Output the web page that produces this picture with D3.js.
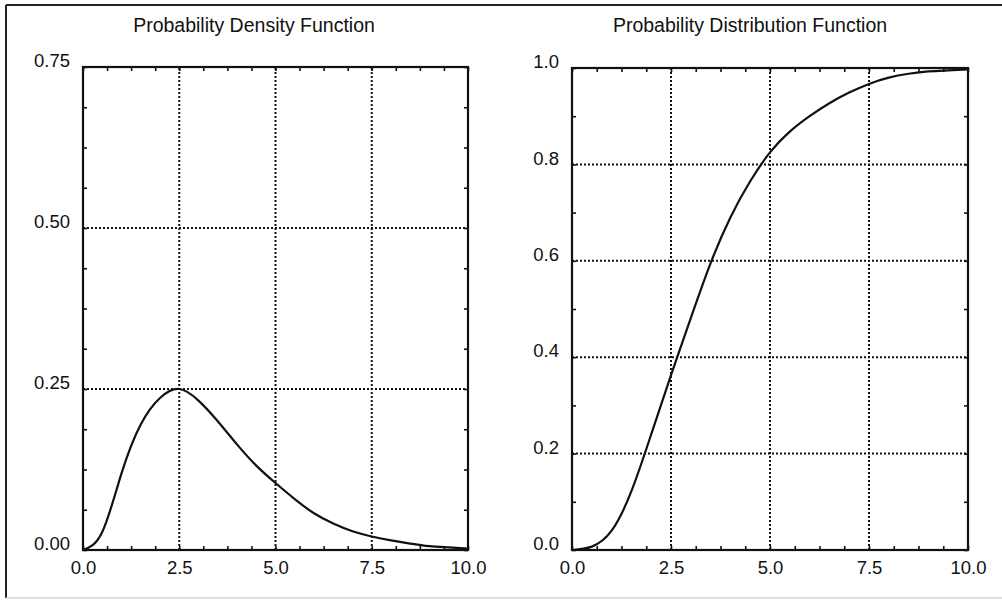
<!DOCTYPE html>
<html>
<head>
<meta charset="utf-8">
<script src="https://cdn.jsdelivr.net/npm/d3@7"></script>
<style>
  body { margin: 0; background: #fff; }
  text { font-family: "Liberation Sans", Arial, Helvetica, sans-serif; fill: #111; }
</style>
</head>
<body>
<div id="chart"></div>
<script>
// x positions shared by both curves (read every 0.5)
const xs = [0, 0.5, 1, 1.5, 2, 2.5, 3, 3.5, 4, 4.5, 5, 5.5, 6, 6.5, 7, 7.5, 8, 8.5, 9, 9.5, 10];

// density values
const pdfValues = [0, 0.028, 0.119, 0.195, 0.236, 0.250, 0.232, 0.200, 0.164, 0.131, 0.104,
                   0.079, 0.057, 0.041, 0.029, 0.021, 0.015, 0.010, 0.006, 0.004, 0.002];

// distribution values
const cdfValues = [0, 0.007, 0.040, 0.122, 0.240, 0.363, 0.481, 0.595, 0.690, 0.765, 0.825,
                   0.868, 0.900, 0.927, 0.949, 0.967, 0.980, 0.988, 0.993, 0.995, 0.997];

const xTicks = [0, 2.5, 5, 7.5, 10];
const pdfTicks = [0, 0.25, 0.5, 0.75];
const cdfTicks = [0, 0.2, 0.4, 0.6, 0.8, 1.0];

const width = 1002, height = 601;

const svg = d3.select("#chart").append("svg")
    .attr("width", width)
    .attr("height", height);

// outer frame of the scanned figure
svg.append("line").attr("x1", 6).attr("x2", width).attr("y1", 5).attr("y2", 5)
    .attr("stroke", "#222").attr("stroke-width", 2);
svg.append("line").attr("x1", 6).attr("x2", 6).attr("y1", 5).attr("y2", 598)
    .attr("stroke", "#222").attr("stroke-width", 2);
svg.append("line").attr("x1", 6).attr("x2", width).attr("y1", 598).attr("y2", 598)
    .attr("stroke", "#d4d4d4").attr("stroke-width", 1.5);

function panel(opts) {
    const x = d3.scaleLinear().domain([0, 10]).range(opts.xRange);
    const y = d3.scaleLinear().domain(opts.yDomain).range(opts.yRange);
    const g = svg.append("g");

    // dotted grid at the inner major ticks
    g.selectAll(".vgrid").data(xTicks.slice(1, -1)).enter().append("line")
        .attr("x1", d => x(d)).attr("x2", d => x(d))
        .attr("y1", y.range()[0]).attr("y2", y.range()[1])
        .attr("stroke", "#111").attr("stroke-width", 2)
        .attr("stroke-dasharray", "2,2");
    g.selectAll(".hgrid").data(opts.yTicks.slice(1, -1)).enter().append("line")
        .attr("x1", x.range()[0]).attr("x2", x.range()[1])
        .attr("y1", d => y(d)).attr("y2", d => y(d))
        .attr("stroke", "#111").attr("stroke-width", 2)
        .attr("stroke-dasharray", "2,2");

    // minor ticks pointing inward on all four sides
    const xMinor = d3.range(0, 10.001, 0.625);
    const yMinor = d3.range(opts.yDomain[0], opts.yDomain[1] + 1e-6, opts.yMinorStep);
    const minor = [
        [d3.axisBottom(x).tickValues(xMinor), "translate(0," + y.range()[0] + ")"],
        [d3.axisTop(x).tickValues(xMinor), "translate(0," + y.range()[1] + ")"],
        [d3.axisLeft(y).tickValues(yMinor), "translate(" + x.range()[0] + ",0)"],
        [d3.axisRight(y).tickValues(yMinor), "translate(" + x.range()[1] + ",0)"]
    ];
    minor.forEach(([axis, tr]) => {
        const a = g.append("g").attr("transform", tr)
            .call(axis.tickSize(-4).tickFormat(""));
        a.select(".domain").remove();
        a.selectAll("line").attr("stroke", "#111").attr("stroke-width", 1.6);
    });

    // tick labels
    const xa = g.append("g").attr("transform", "translate(0," + y.range()[0] + ")")
        .call(d3.axisBottom(x).tickValues(xTicks).tickFormat(d3.format(".1f"))
            .tickSize(0).tickPadding(11));
    xa.select(".domain").remove();
    xa.selectAll("text").attr("font-size", 18.5).attr("font-family", null).attr("fill", null);

    const ya = g.append("g").attr("transform", "translate(" + x.range()[0] + ",0)")
        .call(d3.axisLeft(y).tickValues(opts.yTicks).tickFormat(d3.format(opts.yFormat))
            .tickSize(0).tickPadding(13));
    ya.select(".domain").remove();
    ya.selectAll("text").attr("font-size", 18.5).attr("font-family", null).attr("fill", null)
        .attr("dy", "-0.02em");

    // curve
    const line = d3.line()
        .x((d, i) => x(xs[i]))
        .y(d => y(d))
        .curve(d3.curveNatural);
    g.append("path")
        .datum(opts.values)
        .attr("d", line)
        .attr("fill", "none")
        .attr("stroke", "#111")
        .attr("stroke-width", 2.2);

    // plot frame
    g.append("rect")
        .attr("x", x.range()[0]).attr("y", y.range()[1])
        .attr("width", x.range()[1] - x.range()[0])
        .attr("height", y.range()[0] - y.range()[1])
        .attr("fill", "none")
        .attr("stroke", "#111")
        .attr("stroke-width", 2.2);

    svg.append("text")
        .attr("x", opts.titleX).attr("y", 32)
        .attr("text-anchor", "middle")
        .attr("font-size", 19.5)
        .text(opts.title);
}

panel({
    title: "Probability Density Function",
    titleX: 254,
    values: pdfValues,
    xRange: [83, 468],
    yDomain: [0, 0.75],
    yRange: [550, 67],
    yTicks: pdfTicks,
    yMinorStep: 0.0625,
    yFormat: ".2f"
});

panel({
    title: "Probability Distribution Function",
    titleX: 750,
    values: cdfValues,
    xRange: [572, 968],
    yDomain: [0, 1],
    yRange: [550, 68],
    yTicks: cdfTicks,
    yMinorStep: 0.1,
    yFormat: ".1f"
});
</script>
</body>
</html>
